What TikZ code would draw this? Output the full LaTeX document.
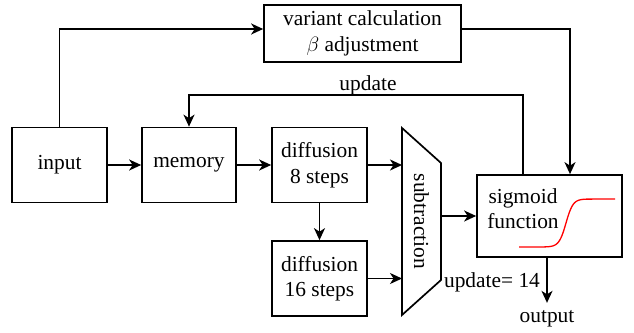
\documentclass[tikz,border=0pt]{standalone}
\usepackage{fontspec}
\setmainfont{Liberation Serif}
\usetikzlibrary{arrows.meta,calc}
\begin{document}
\begin{tikzpicture}[x=1pt,y=-1pt,
  font=\fontsize{21.4}{25.5}\selectfont,
  line width=1.7pt,
  box/.style={draw, rectangle, align=center, inner sep=0pt},
  arr/.style={-{Stealth[length=12pt,width=11pt,inset=3.5pt]}},
  lbl/.style={inner sep=1pt}]
\path[use as bounding box] (0,0) rectangle (634,332);
\node[box, minimum width=95pt, minimum height=75pt] (input) at (59.5,165) {input};
\node[box, minimum width=94pt, minimum height=75pt] (memory) at (189,165) {memory};
\node[box, minimum width=95pt, minimum height=75pt] (diff8) at (319.5,165) {diffusion\\8 steps};
\node[box, minimum width=95pt, minimum height=75pt] (diff16) at (319.5,278.5) {diffusion\\16 steps};
\node[box, minimum width=197pt, minimum height=57pt] (variant) at (362.5,33.5) {variant calculation\\$\beta$ adjustment};
\node[box, minimum width=145pt, minimum height=82pt] (sigmoid) at (549.5,216) {};
\node[inner sep=0pt, align=center] (sigtxt) at (523,208.5) {sigmoid\\function};
% subtraction trapezoid
\coordinate (sA) at (402,128);
\coordinate (sB) at (441,163);
\coordinate (sC) at (441,280);
\coordinate (sD) at (402,315);
\draw[line join=miter] (sA) -- (sB) -- (sC) -- (sD) -- cycle;
\node[rotate=-90, inner sep=0pt] (subtxt) at (421.5,221.5) {subtraction};
% sigmoid curve
\draw[red, line width=1.3pt] (519,247) -- (545,247)
  -- plot[domain=-6:6, samples=60] ({566+3.5*\x}, {247-48/(1+exp(-\x))})
  -- (615,199);
% connectors
\draw[arr] (input.east) -- (memory.west);
\draw[arr] (memory.east) -- (diff8.west);
\draw[arr] (diff8.south) -- (diff16.north);
\draw[arr] (diff8.east) -- (diff8.east -| sA);
\draw[arr] (diff16.east) -- (diff16.east -| sA);
\draw[arr] (sigmoid.west -| sB) -- (sigmoid.west);
\draw[arr] (input.north) |- ([yshift=4.5pt]variant.west);
\draw[arr] ([yshift=4.5pt]variant.east) -| ([xshift=20.5pt]sigmoid.north);
\draw[arr] ([xshift=-26.5pt]sigmoid.north) -- ++(0,-79) -| (memory.north);
\node[lbl] (updlbl) at (368,85) {update};
\node[inner sep=0pt] (out) at (547,319) {output};
\draw[arr] (sigmoid.south -| out) -- ([yshift=7pt]out.north);
\node[lbl] (upd14) at (492,282) {update= 14};
\end{tikzpicture}
\end{document}
